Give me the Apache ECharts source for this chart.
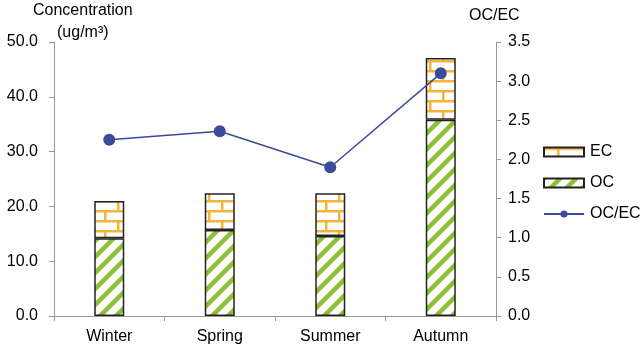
<!DOCTYPE html>
<html><head><meta charset="utf-8">
<script src="https://cdn.jsdelivr.net/npm/echarts@6/dist/echarts.min.js"></script>
<style>html,body{margin:0;padding:0;background:#fff}#c{width:640px;height:350px}</style>
</head><body><div id="c"></div>
<script>
const categories = ['Winter', 'Spring', 'Summer', 'Autumn'];
const ocValues = [14.2, 15.7, 14.6, 35.8];
const ecValues = [6.8, 6.7, 7.8, 11.3];
const ratioValues = [2.25, 2.36, 1.90, 3.10];

function brickPattern() {
  const c = document.createElement('canvas');
  c.width = 26; c.height = 20;
  const g = c.getContext('2d');
  g.fillStyle = '#fff'; g.fillRect(0, 0, 26, 20);
  g.fillStyle = '#f4b33a';
  g.fillRect(0, 0, 26, 2.5);
  g.fillRect(0, 10, 26, 2.5);
  g.fillRect(13, 0, 2.5, 10);
  g.fillRect(0, 10, 2.5, 10);
  return c;
}
function stripePattern() {
  const s = 16;
  const c = document.createElement('canvas');
  c.width = s; c.height = s;
  const g = c.getContext('2d');
  g.fillStyle = '#fff'; g.fillRect(0, 0, s, s);
  g.strokeStyle = '#8cc034';
  g.lineWidth = 4.5;
  for (let k = -1; k <= 1; k++) {
    g.beginPath();
    g.moveTo(k * s - 2, s + 2);
    g.lineTo(k * s + s + 2, -2);
    g.stroke();
  }
  return c;
}

const chart = echarts.init(document.getElementById('c'), null, {renderer: 'canvas'});
const font = 'Liberation Sans, Arial, sans-serif';
chart.setOption({
  animation: false,
  grid: {left: 54, right: 144, top: 42, bottom: 34},
  legend: {
    orient: 'vertical', left: 543, top: 144, padding: 0,
    itemWidth: 40, itemHeight: 9, itemGap: 15,
    data: [{name: 'EC', icon: 'rect'}, {name: 'OC', icon: 'rect'}, {name: 'OC/EC'}],
    textStyle: {fontFamily: font, fontSize: 16, color: '#000', padding: [0, 0, 0, 1]}
  },
  graphic: [
    {type: 'text', left: 33, top: 3, style: {text: 'Concentration', font: '16px ' + font, fill: '#000'}},
    {type: 'text', left: 57, top: 25, style: {text: '(ug/m³)', font: '16px ' + font, fill: '#000'}},
    {type: 'text', left: 469, top: 8, style: {text: 'OC/EC', font: '16px ' + font, fill: '#000'}}
  ],
  xAxis: {
    type: 'category', data: categories,
    axisLine: {lineStyle: {color: '#999'}},
    axisTick: {show: true, alignWithLabel: false, length: 5, lineStyle: {color: '#999'}},
    axisLabel: {fontFamily: font, fontSize: 16, color: '#000', margin: 13}
  },
  yAxis: [
    {
      type: 'value', min: 0, max: 50, interval: 10,
      axisLine: {show: true, lineStyle: {color: '#999'}},
      axisTick: {show: true, length: 5, lineStyle: {color: '#999'}},
      splitLine: {show: false},
      axisLabel: {fontFamily: font, fontSize: 16, color: '#000', margin: 16, formatter: v => v.toFixed(1)}
    },
    {
      type: 'value', min: 0, max: 3.5, interval: 0.5, position: 'right',
      axisLine: {show: true, lineStyle: {color: '#999'}},
      axisTick: {show: true, length: 5, lineStyle: {color: '#999'}},
      splitLine: {show: false},
      axisLabel: {fontFamily: font, fontSize: 16, color: '#000', margin: 12, formatter: v => v.toFixed(1)}
    }
  ],
  series: [
    {
      name: 'OC', type: 'bar', stack: 'c', data: ocValues, barWidth: 30,
      itemStyle: {color: {image: stripePattern(), repeat: 'repeat'}, borderColor: '#222', borderWidth: 1.5}
    },
    {
      name: 'EC', type: 'bar', stack: 'c', data: ecValues, barWidth: 30,
      itemStyle: {color: {image: brickPattern(), repeat: 'repeat'}, borderColor: '#222', borderWidth: 1.5}
    },
    {
      name: 'OC/EC', type: 'line', yAxisIndex: 1, data: ratioValues,
      symbol: 'circle', symbolSize: 12,
      lineStyle: {color: '#3b4a9c', width: 1.5},
      itemStyle: {color: '#3b4a9c'}
    }
  ]
});
</script></body></html>
